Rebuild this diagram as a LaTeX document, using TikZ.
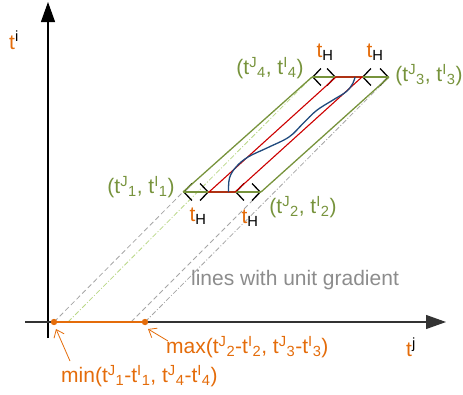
\documentclass[tikz,border=0pt]{standalone}
\usepackage{fontspec}
\setmainfont{Liberation Sans}
\usetikzlibrary{arrows.meta}
\definecolor{olivegreen}{RGB}{119,147,60}
\definecolor{tangerine}{RGB}{228,108,10}
\definecolor{darkblue}{RGB}{31,73,125}
\definecolor{paleolive}{RGB}{185,215,135}
\definecolor{redline}{RGB}{204,0,0}
\newcommand{\tJI}[2]{t\textsuperscript{#1}\textsubscript{#2}}
\newcommand{\tH}{\textcolor{tangerine}{t}\textsubscript{H}}

\begin{document}
\begin{tikzpicture}[x=1pt,y=-1pt,
  every node/.style={font=\fontsize{21}{25}\selectfont,inner sep=0pt},
  axisline/.style={line width=1.2pt,-{Triangle[length=20pt,width=14pt]}},
  greyunit/.style={black!35,line width=0.8pt,dash pattern=on 5pt off 3pt},
  greenunit/.style={paleolive,line width=0.8pt,dash pattern=on 5pt off 2pt on 1pt off 2pt},
  greydotunit/.style={black!35,line width=0.8pt,dash pattern=on 5pt off 2pt on 1pt off 2pt},
  widthbar/.style={black,line width=1.3pt,{Straight Barb[length=8pt,width=17pt]}-{Straight Barb[length=8pt,width=17pt]}},
  corner/.style={olivegreen},
  pointer/.style={tangerine,line width=0.8pt,-{Straight Barb[length=7pt,width=11pt]}}]
\useasboundingbox (0,0) rectangle (463,394);

% corners of the window and the red band
\coordinate (c1) at (183,192);
\coordinate (c2) at (261,192);
\coordinate (c3) at (389,77);
\coordinate (c4) at (312,77);
\coordinate (r1) at (209,192);
\coordinate (r2) at (235,192);
\coordinate (r3) at (362,77);
\coordinate (r4) at (336,77);

% axes
\coordinate (ybot) at (48,338);
\coordinate (ytop) at (48,2);
\coordinate (xleft) at (25,322);
\coordinate (xright) at (446,322);
\draw[axisline] (ybot) -- (ytop);
\draw[axisline,black!80] (xleft) -- (xright);
\node (ti) at (14,40) {\textcolor{tangerine}{t}\textsuperscript{i}};
\node (tj) at (411,347) {\textcolor{tangerine}{t}\textsuperscript{j}};

% lines with unit gradient down to the axis
\coordinate (mindot) at (54,322);
\coordinate (i4) at (68,322);
\coordinate (i2) at (131,322);
\coordinate (maxdot) at (145,322);
\draw[greyunit] (mindot) -- (c1);
\draw[greenunit] (i4) -- (c4);
\draw[greyunit] (i2) -- (c2);
\draw[greydotunit] (maxdot) -- (c3);
\node[black!45] (gradlbl) at (295,280) {lines with unit gradient};

% t_H widths
\draw[widthbar] (c1) -- (r1);
\draw[widthbar] (r2) -- (c2);
\draw[widthbar] (c4) -- (r4);
\draw[widthbar] (r3) -- (c3);

% window
\draw[olivegreen,line width=1.3pt] (c1) -- (c4) (c2) -- (c3);
\draw[olivegreen,line width=2.6pt] (c1) -- (c2) (c4) -- (c3);
\draw[redline,line width=1.1pt] (r1) -- (r4) -- (r3) -- (r2) -- cycle;
\draw[darkblue,line width=1.3pt] plot[smooth,tension=0.6] coordinates {(228.5,192) (229.5,178) (236,167) (248,157) (268,147.5) (289,137) (303,123.5) (316.5,110.5) (333,100) (346.5,91.5) (353,83) (355,77)};

\node (th1) at (198,216) {\tH};
\node (th2) at (250,218) {\tH};
\node (th4) at (325,52) {\tH};
\node (th3) at (375,52) {\tH};
\node[corner] (p1) at (141,187) {(\tJI{J}{1}, \tJI{I}{1})};
\node[corner] (p2) at (303,207) {(\tJI{J}{2}, \tJI{I}{2})};
\node[corner] (p3) at (429,75) {(\tJI{J}{3}, \tJI{I}{3})};
\node[corner] (p4) at (270,68) {(\tJI{J}{4}, \tJI{I}{4})};

% projection onto the t^j axis
\draw[tangerine,line width=2.4pt] (mindot) -- (maxdot);
\fill[tangerine] (mindot) circle (3.2pt) (maxdot) circle (3.2pt);
\node[tangerine,anchor=west] (maxlbl) at (166,347) {max(\tJI{J}{2}-\tJI{I}{2}, \tJI{J}{3}-\tJI{I}{3})};
\node[tangerine,anchor=west] (minlbl) at (61,376) {min(\tJI{J}{1}-\tJI{I}{1}, \tJI{J}{4}-\tJI{I}{4})};
\draw[pointer] ([shift={(2,-6)}]maxlbl.west) -- ([shift={(3,7)}]maxdot);
\draw[pointer] ([shift={(9,-15)}]minlbl.west) -- ([shift={(2,7)}]mindot);
\end{tikzpicture}
\end{document}
